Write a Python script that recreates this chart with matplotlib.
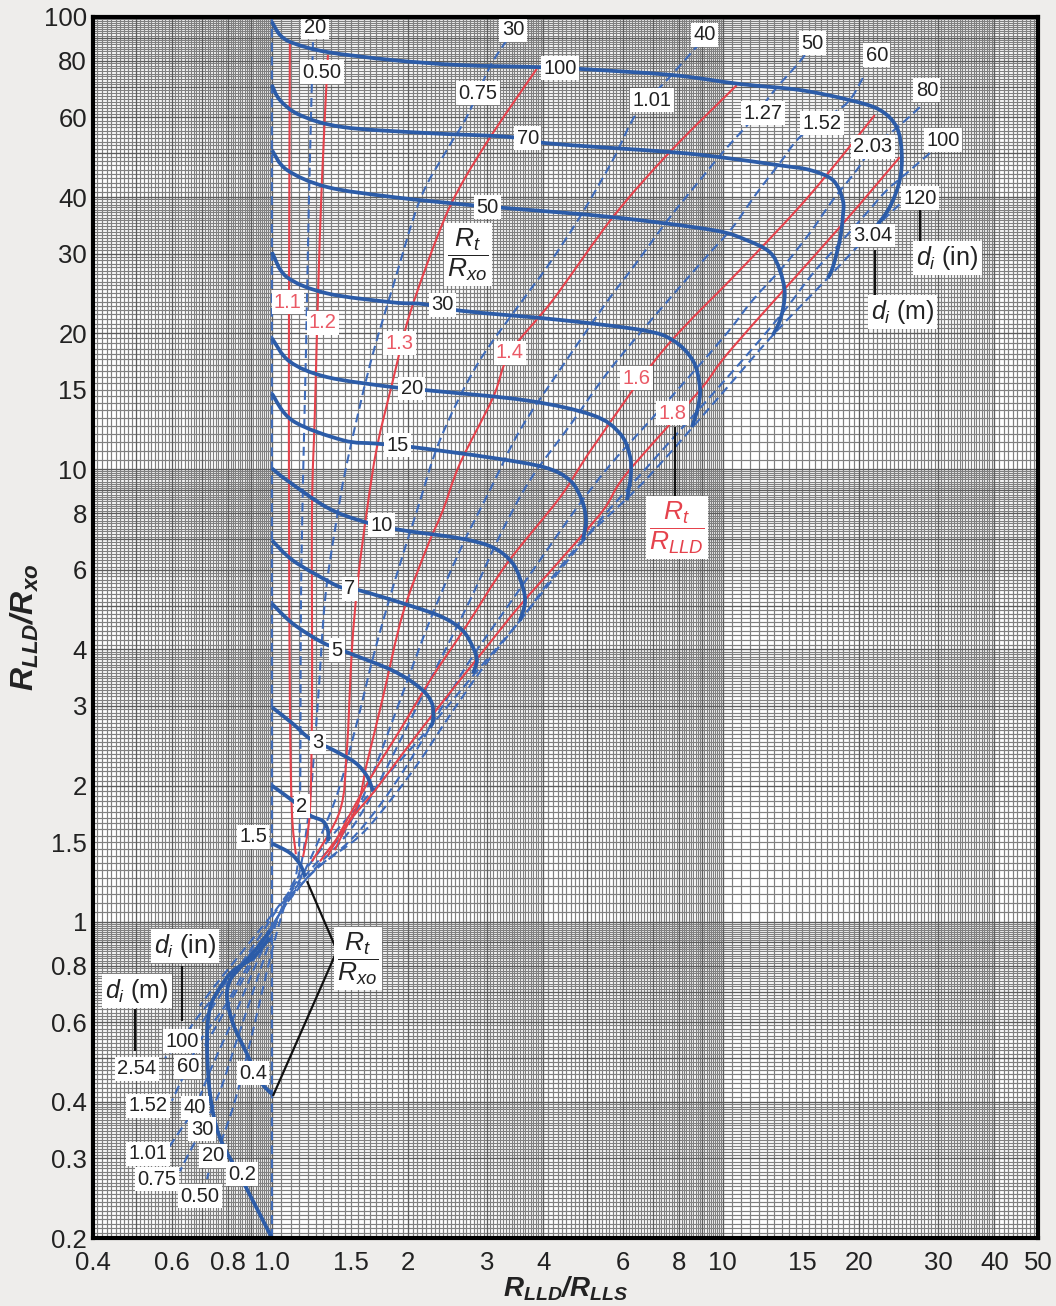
import numpy as np
import matplotlib
matplotlib.use("Agg")
import matplotlib.pyplot as plt
from matplotlib.path import Path
from matplotlib.patches import PathPatch

plt.rcParams['font.family'] = ['Liberation Sans', 'DejaVu Sans']
plt.rcParams['mathtext.fontset'] = 'custom'
plt.rcParams['mathtext.rm'] = 'Liberation Sans'
plt.rcParams['mathtext.it'] = 'Liberation Sans:italic'
plt.rcParams['mathtext.bf'] = 'Liberation Sans:bold'
plt.rcParams['mathtext.bfit'] = 'Liberation Sans:bold:italic'

# ---------------- axis ticks ----------------
x_ticks = [0.4, 0.6, 0.8, 1.0, 1.5, 2, 3, 4, 6, 8, 10, 15, 20, 30, 40, 50]
x_tick_labels = ['0.4', '0.6', '0.8', '1.0', '1.5', '2', '3', '4', '6', '8',
                 '10', '15', '20', '30', '40', '50']
y_ticks = [0.2, 0.3, 0.4, 0.6, 0.8, 1, 1.5, 2, 3, 4, 6, 8, 10, 15, 20, 30, 40, 60, 80, 100]
y_tick_labels = ['0.2', '0.3', '0.4', '0.6', '0.8', '1', '1.5', '2', '3', '4', '6', '8',
                 '10', '15', '20', '30', '40', '60', '80', '100']

# ---------------- Rt/Rxo curves (solid blue) ----------------
rxo_100_x = [1.0, 1.042, 1.113, 1.324, 1.854, 2.612, 3.870, 4.894, 7.745, 10.91, 14.82, 19.13, 22.29, 24.29, 24.93, 24.68, 23.45, 21.73]
rxo_100_y = [97.5, 91.3, 87.6, 83.7, 80.3, 78.3, 77.5, 76.7, 74.4, 71.1, 68.96, 65.5, 62.3, 57.1, 50.0, 43.6, 38.0, 34.1]
rxo_70_x = [1.0, 1.042, 1.154, 1.437, 2.207, 3.372, 4.073, 7.629, 9.85, 13.37, 15.59, 17.54, 18.45, 18.45, 18.17, 17.54, 17.10]
rxo_70_y = [70.7, 65.5, 60.7, 57.1, 55.4, 54.3, 52.6, 50.3, 49.0, 47.0, 45.9, 43.6, 39.4, 36.1, 32.1, 28.0, 26.5]
rxo_50_x = [1.0, 1.080, 1.324, 1.854, 2.748, 3.319, 5.702, 9.505, 11.30, 12.71, 13.37, 13.72, 13.44, 12.91]
rxo_50_y = [50.8, 45.9, 42.1, 40.0, 38.4, 37.8, 36.1, 33.8, 32.1, 30.2, 27.6, 24.5, 21.6, 19.8]
rxo_30_x = [1.0, 1.080, 1.324, 1.854, 2.161, 2.651, 4.352, 6.646, 7.745, 8.583, 8.895, 8.805, 8.54]
rxo_30_y = [30.2, 26.6, 24.5, 23.4, 23.2, 22.4, 21.4, 20.3, 19.3, 17.4, 15.2, 13.7, 12.4]
rxo_20_x = [1.0, 1.096, 1.324, 1.854, 2.207, 3.677, 5.152, 5.911, 6.218, 6.25, 6.124]
rxo_20_y = [19.5, 17.3, 16.0, 15.2, 14.96, 14.2, 13.17, 12.01, 10.74, 9.70, 8.54]
rxo_15_x = [1.0, 1.113, 1.437, 1.710, 2.054, 3.091, 4.03, 4.578, 4.87, 4.97, 4.894]
rxo_15_y = [14.7, 12.8, 11.6, 11.4, 11.2, 10.6, 10.1, 9.46, 8.54, 7.71, 6.97]
rxo_10_x = [1.0, 1.080, 1.324, 1.567, 1.893, 2.612, 3.091, 3.423, 3.602, 3.639, 3.548]
rxo_10_y = [10.05, 9.46, 8.24, 7.71, 7.37, 7.04, 6.72, 6.19, 5.48, 5.05, 4.63]
rxo_7_x = [1.0, 1.113, 1.324, 1.429, 1.567, 2.023, 2.393, 2.651, 2.792, 2.848, 2.792]
rxo_7_y = [6.97, 6.29, 5.68, 5.48, 5.40, 5.00, 4.71, 4.40, 4.04, 3.78, 3.54]
rxo_5_x = [1.0, 1.113, 1.297, 1.489, 1.854, 2.129, 2.264, 2.275, 2.240]
rxo_5_y = [5.05, 4.56, 4.14, 3.92, 3.59, 3.29, 3.04, 2.78, 2.69]
rxo_3_x = [1.0, 1.113, 1.214, 1.365, 1.528, 1.624, 1.675]
rxo_3_y = [2.98, 2.74, 2.54, 2.40, 2.25, 2.10, 1.95]
rxo_2_x = [1.0, 1.113, 1.214, 1.297, 1.331, 1.331]
rxo_2_y = [2.00, 1.85, 1.72, 1.67, 1.59, 1.51]
rxo_1p5_x = [1.0, 1.096, 1.154, 1.184]
rxo_1p5_y = [1.49, 1.42, 1.34, 1.26]
rxo_0p4_x = [1.0, 0.941, 0.880, 0.820, 0.795, 0.807, 0.849, 0.917, 0.990]
rxo_0p4_y = [0.416, 0.445, 0.511, 0.595, 0.679, 0.741, 0.791, 0.863, 0.955]
rxo_0p2_x = [1.0, 0.862, 0.767, 0.729, 0.718, 0.729, 0.767, 0.820, 0.908, 0.990]
rxo_0p2_y = [0.200, 0.267, 0.333, 0.416, 0.545, 0.645, 0.715, 0.779, 0.833, 0.922]

# ---------------- invasion diameter lines (dashed blue) ----------------
di0_x = [1.0, 1.0]
di0_y = [0.2, 100.0]
di20_x = [1.233, 1.208, 1.190, 1.172, 1.160, 1.154, 1.136, 1.096, 1.058, 1.0, 0.941, 0.885, 0.828, 0.775, 0.740, 0.718]
di20_y = [88.0, 39.4, 18.3, 9.46, 5.13, 1.76, 1.30, 1.18, 1.057, 0.863, 0.669, 0.518, 0.402, 0.331, 0.304, 0.270]
di30_x = [3.319, 3.042, 2.704, 2.443, 2.129, 1.854, 1.649, 1.466, 1.379, 1.311, 1.265, 1.214, 1.154, 1.096, 1.042, 0.965, 0.894, 0.828, 0.767, 0.700, 0.658, 0.625]
di30_y = [88.9, 77.5, 60.1, 50.8, 39.4, 25.3, 17.0, 10.3, 7.33, 5.13, 3.08, 1.85, 1.30, 1.171, 1.047, 0.841, 0.669, 0.532, 0.423, 0.348, 0.311, 0.281]
di40_x = [8.895, 7.629, 6.442, 5.702, 4.816, 4.073, 3.602, 2.848, 2.358, 2.098, 1.874, 1.692, 1.528, 1.379, 1.184, 1.107, 1.042, 0.950, 0.871, 0.799, 0.729, 0.675, 0.625, 0.588]
di40_y = [87.6, 73.7, 61.3, 48.3, 36.1, 28.0, 23.7, 17.0, 11.6, 8.11, 5.68, 3.98, 2.65, 1.85, 1.30, 1.171, 1.047, 0.863, 0.704, 0.574, 0.468, 0.388, 0.345, 0.315]
di50_x = [15.2, 14.59, 13.03, 11.59, 10.10, 8.895, 7.551, 6.379, 5.470, 4.352, 3.548, 3.042, 2.612, 2.240, 1.922, 1.649, 1.452, 1.214, 1.096, 0.990, 0.871, 0.775, 0.710]
di50_y = [82.4, 78.3, 68.96, 59.2, 50.8, 43.6, 35.6, 28.3, 23.1, 16.6, 12.2, 8.99, 6.62, 4.63, 3.08, 2.05, 1.59, 1.30, 1.14, 0.955, 0.759, 0.619, 0.532]
di60_x = [20.44, 18.84, 16.16, 14.59, 13.37, 11.89, 10.52, 9.358, 7.246, 5.611, 4.578, 3.733, 3.203, 2.748, 2.358, 2.023, 1.735, 1.489, 1.245, 1.142, 1.058, 0.965, 0.871, 0.787, 0.692, 0.651, 0.600]
di60_y = [73.3, 64.5, 58.3, 53.4, 47.5, 40.8, 34.3, 30.1, 22.5, 16.6, 12.5, 9.46, 7.14, 5.13, 3.78, 2.78, 2.05, 1.59, 1.31, 1.18, 1.069, 0.908, 0.779, 0.652, 0.545, 0.478, 0.402]
di80_x = [27.35, 24.29, 21.51, 19.82, 17.54, 15.59, 13.58, 11.66, 10.21, 8.453, 6.887, 5.611, 4.695, 3.927, 3.286, 2.748, 2.358, 2.023, 1.735, 1.489, 1.265, 1.154, 1.042, 0.941, 0.849, 0.767, 0.692]
di80_y = [63.2, 56.8, 51.6, 45.9, 39.4, 33.3, 28.0, 23.7, 20.0, 16.1, 12.8, 10.2, 8.11, 6.29, 4.88, 3.78, 2.93, 2.27, 1.81, 1.51, 1.32, 1.201, 1.085, 0.931, 0.799, 0.686, 0.589]
di100_x = [28.77, 25.59, 23.10, 20.85, 18.17, 15.83, 13.87, 12.07, 9.85, 8.035, 6.546, 5.337, 4.352, 3.548, 2.965, 2.481, 2.129, 1.827, 1.567, 1.291, 1.154, 1.069, 0.965, 0.849, 0.747, 0.675, 0.631, 0.579]
di100_y = [50.0, 45.2, 41.4, 36.9, 31.6, 27.1, 22.8, 19.3, 15.3, 12.2, 9.70, 7.71, 5.98, 4.63, 3.69, 2.86, 2.27, 1.85, 1.55, 1.34, 1.20, 1.085, 0.931, 0.799, 0.686, 0.604, 0.545, 0.500]
di120_x = [25.98, 24.29, 21.73, 17.10, 12.91, 10.10, 8.453, 6.887, 6.067, 4.894, 4.134, 3.548, 2.792, 2.240, 1.922, 1.675, 1.489, 1.331, 1.184, 1.096, 1.016, 0.917, 0.828, 0.747, 0.692]
di120_y = [40.4, 38.0, 34.1, 26.5, 19.8, 14.96, 12.2, 9.70, 8.54, 6.97, 5.68, 4.63, 3.50, 2.69, 2.27, 1.95, 1.72, 1.51, 1.30, 1.171, 1.057, 0.931, 0.820, 0.722, 0.652]

# ---------------- Rt/RLLD lines (solid red) ----------------
rlld_1p1_x = [1.096, 1.091, 1.091, 1.096, 1.107, 1.130]
rlld_1p1_y = [87.6, 23.7, 8.54, 3.08, 1.76, 1.41]
rlld_1p2_x = [1.331, 1.291, 1.265, 1.245, 1.227, 1.227, 1.214, 1.172]
rlld_1p2_y = [82.4, 43.6, 24.0, 13.3, 8.11, 3.08, 1.76, 1.39]
rlld_1p3_x = [3.890, 3.091, 2.612, 2.358, 2.023, 1.854, 1.710, 1.624, 1.551, 1.504, 1.466, 1.415, 1.227]
rlld_1p3_y = [77.5, 55.4, 42.1, 33.8, 22.1, 15.7, 11.2, 8.11, 5.68, 3.98, 2.39, 1.76, 1.36]
rlld_1p4_x = [10.74, 7.629, 5.702, 4.200, 3.372, 3.091, 2.612, 2.393, 2.207, 1.951, 1.762, 1.624, 1.528, 1.278]
rlld_1p4_y = [70.7, 50.3, 36.1, 23.7, 18.1, 14.4, 10.3, 8.11, 6.72, 4.80, 3.13, 2.24, 1.76, 1.36]
rlld_1p6_x = [21.73, 15.59, 11.19, 7.362, 5.152, 4.352, 3.319, 2.704, 2.240, 1.922, 1.692, 1.528, 1.331]
rlld_1p6_y = [60.7, 40.4, 28.3, 18.3, 11.2, 8.67, 6.19, 4.52, 3.41, 2.65, 2.16, 1.81, 1.40]
rlld_1p8_x = [24.68, 18.17, 10.52, 8.895, 6.124, 5.420, 4.352, 3.548, 2.891, 2.358, 1.972, 1.692, 1.489, 1.379]
rlld_1p8_y = [49.0, 34.3, 18.6, 14.96, 9.80, 8.11, 6.29, 5.00, 3.88, 3.01, 2.39, 1.95, 1.67, 1.44]

# ---------------- curve labels ----------------
rxo_label_text = ['100', '70', '50', '30', '20', '15', '10', '7', '5', '3', '2', '1.5', '0.4', '0.2']
rxo_label_x = [4.352, 3.695, 3.012, 2.393, 2.044, 1.903, 1.753, 1.489, 1.394, 1.265, 1.166, 0.908, 0.908, 0.858]
rxo_label_y = [77.1, 54.0, 38.0, 23.1, 15.1, 11.3, 7.52, 5.45, 3.98, 2.49, 1.80, 1.54, 0.463, 0.277]

rlld_label_text = ['1.1', '1.2', '1.3', '1.4', '1.6', '1.8']
rlld_label_x = [1.085, 1.297, 1.922, 3.372, 6.442, 7.745]
rlld_label_y = [23.4, 21.1, 19.0, 18.1, 15.9, 13.3]

di_label_text = ['20', '0.50', '30', '0.75', '40', '1.01', '50', '1.27', '60', '1.52',
                 '80', '2.03', '100', '120', '3.04',
                 '100', '2.54', '60', '1.52', '40', '30', '1.01', '20', '0.75', '0.50']
di_label_x = [1.246, 1.291, 3.423, 2.863, 9.12, 6.96, 15.83, 12.27, 21.96, 16.58,
              28.34, 21.51, 30.74, 27.35, 21.51,
              0.631, 0.502, 0.651, 0.531, 0.675, 0.700, 0.531, 0.740, 0.556, 0.692]
di_label_y = [95.0, 75.5, 93.6, 67.9, 91.3, 65.5, 87.6, 61.3, 82.4, 58.3,
              68.96, 51.6, 53.4, 39.8, 32.9,
              0.545, 0.473, 0.478, 0.392, 0.388, 0.348, 0.307, 0.304, 0.270, 0.2476]

# leader lines for the explanatory labels
lead_rlld_x = [7.83, 7.83]
lead_rlld_y = [12.4, 8.24]
lead_rxo_x = [1.196, 1.394, 1.005]
lead_rxo_y = [1.23, 0.863, 0.412]
lead_din_r_x = [27.35, 27.35]
lead_din_r_y = [37.4, 31.3]
lead_dm_r_x = [21.73, 21.73]
lead_dm_r_y = [30.5, 24.3]
lead_din_l_x = [0.631, 0.631]
lead_din_l_y = [0.799, 0.604]
lead_dm_l_x = [0.497, 0.497]
lead_dm_l_y = [0.642, 0.518]

BLUE = '#2c5ca8'
DBLUE = '#3f6cbb'
RED = '#e5424c'
RED_TXT = '#ea5a66'
GRID = '#808080'
GRID_DARK = '#5c5c5c'
TXT = '#222222'


def smooth_path(xs, ys):
    """Catmull-Rom spline through the points, built in log space."""
    p = np.column_stack([np.log10(xs), np.log10(ys)])
    n = len(p)
    verts = [p[0]]
    codes = [Path.MOVETO]
    for i in range(n - 1):
        p0 = p[i - 1] if i > 0 else p[i]
        p1, p2 = p[i], p[i + 1]
        p3 = p[i + 2] if i + 2 < n else p[i + 1]
        verts += [p1 + (p2 - p0) / 6.0, p2 - (p3 - p1) / 6.0, p2]
        codes += [Path.CURVE4] * 3
    return Path(10 ** np.array(verts), codes)


def draw_curve(ax, xs, ys, color, lw, ls='-', z=3):
    patch = PathPatch(smooth_path(xs, ys), fill=False, edgecolor=color,
                      linewidth=lw, linestyle=ls, zorder=z, capstyle='butt',
                      joinstyle='round')
    ax.add_patch(patch)


def grid_values(lo, hi):
    vals, major = [], []
    for dec in [0.1, 1.0, 10.0]:
        for a, b, s in [(1, 2, 0.05), (2, 4, 0.05), (4, 10, 0.1)]:
            for m in np.arange(a, b - 1e-9, s):
                v = round(m * dec, 6)
                if lo - 1e-9 <= v <= hi + 1e-9:
                    if abs(m - round(m)) < 1e-6:
                        major.append(v)
                    else:
                        vals.append(v)
    return vals, major


fig = plt.figure(figsize=(10.56, 13.06), dpi=100)
fig.patch.set_facecolor('#eeedeb')
ax = fig.add_axes([92.5 / 1056, 1 - 1238 / 1306, (1038 - 92.5) / 1056, (1238 - 17) / 1306])
ax.set_xscale('log')
ax.set_yscale('log')
ax.set_xlim(0.4, 50)
ax.set_ylim(0.2, 100)
ax.set_facecolor('white')

# graph-paper grid
gx, gx_major = grid_values(0.4, 50)
gy, gy_major = grid_values(0.2, 100)
ax.vlines(gx, 0.2, 100, colors=GRID, linewidth=0.85, zorder=0)
ax.hlines(gy, 0.4, 50, colors=GRID, linewidth=0.85, zorder=0)
ax.vlines(gx_major, 0.2, 100, colors=GRID_DARK, linewidth=0.95, zorder=0)
ax.hlines(gy_major, 0.4, 50, colors=GRID_DARK, linewidth=0.95, zorder=0)

dash = (0, (4.3, 2.4))

# dashed diameter lines
for xs, ys in [(di0_x, di0_y), (di20_x, di20_y), (di30_x, di30_y), (di40_x, di40_y),
               (di50_x, di50_y), (di60_x, di60_y), (di80_x, di80_y),
               (di100_x, di100_y), (di120_x, di120_y)]:
    draw_curve(ax, xs, ys, DBLUE, 1.5, ls=dash, z=2)

# red Rt/RLLD lines
for xs, ys in [(rlld_1p1_x, rlld_1p1_y), (rlld_1p2_x, rlld_1p2_y), (rlld_1p3_x, rlld_1p3_y),
               (rlld_1p4_x, rlld_1p4_y), (rlld_1p6_x, rlld_1p6_y), (rlld_1p8_x, rlld_1p8_y)]:
    draw_curve(ax, xs, ys, RED, 1.5, z=3)

# solid Rt/Rxo curves
for xs, ys in [(rxo_100_x, rxo_100_y), (rxo_70_x, rxo_70_y), (rxo_50_x, rxo_50_y),
               (rxo_30_x, rxo_30_y), (rxo_20_x, rxo_20_y), (rxo_15_x, rxo_15_y),
               (rxo_10_x, rxo_10_y), (rxo_7_x, rxo_7_y), (rxo_5_x, rxo_5_y),
               (rxo_3_x, rxo_3_y), (rxo_2_x, rxo_2_y), (rxo_1p5_x, rxo_1p5_y),
               (rxo_0p4_x, rxo_0p4_y), (rxo_0p2_x, rxo_0p2_y)]:
    draw_curve(ax, xs, ys, BLUE, 2.7, z=4)

box = dict(boxstyle='square,pad=0.12', facecolor='white', edgecolor='none')
LBL = 14.5

for t, x, y in zip(rxo_label_text, rxo_label_x, rxo_label_y):
    ax.text(x, y, t, fontsize=LBL, color=TXT, ha='center', va='center', bbox=box, zorder=6)
for t, x, y in zip(rlld_label_text, rlld_label_x, rlld_label_y):
    ax.text(x, y, t, fontsize=LBL, color=RED_TXT, ha='center', va='center', bbox=box, zorder=6)
for t, x, y in zip(di_label_text, di_label_x, di_label_y):
    ax.text(x, y, t, fontsize=LBL, color=TXT, ha='center', va='center', bbox=box, zorder=6)

# leader lines
for xs, ys in [(lead_rlld_x, lead_rlld_y), (lead_rxo_x, lead_rxo_y), (lead_din_r_x, lead_din_r_y),
               (lead_dm_r_x, lead_dm_r_y), (lead_din_l_x, lead_din_l_y), (lead_dm_l_x, lead_dm_l_y)]:
    ax.plot(xs, ys, color='#111111', lw=1.6, zorder=5, solid_capstyle='butt')

# explanatory labels
fbox = dict(boxstyle='square,pad=0.12', facecolor='white', edgecolor='none')
ax.text(2.72, 29.8, r'$\dfrac{R_t}{R_{xo}}$', fontsize=19, color=TXT,
        ha='center', va='center', bbox=fbox, zorder=6)
ax.text(1.551, 0.828, r'$\dfrac{R_t}{R_{xo}}$', fontsize=19, color=TXT,
        ha='center', va='center', bbox=fbox, zorder=6)
ax.text(7.9, 7.44, r'$\dfrac{R_t}{R_{LLD}}$', fontsize=19, color=RED,
        ha='center', va='center', bbox=fbox, zorder=6)
ax.text(31.5, 29.3, r'$d_i$ (in)', fontsize=18, color=TXT, ha='center', va='center',
        bbox=fbox, zorder=6)
ax.text(25.06, 22.3, r'$d_i$ (m)', fontsize=18, color=TXT, ha='center', va='center',
        bbox=fbox, zorder=6)
ax.text(0.641, 0.885, r'$d_i$ (in)', fontsize=18, color=TXT, ha='center', va='center',
        bbox=fbox, zorder=6)
ax.text(0.502, 0.704, r'$d_i$ (m)', fontsize=18, color=TXT, ha='center', va='center',
        bbox=fbox, zorder=6)

# axes styling
ax.xaxis.set_major_locator(matplotlib.ticker.FixedLocator(x_ticks))
ax.xaxis.set_minor_locator(matplotlib.ticker.NullLocator())
ax.yaxis.set_major_locator(matplotlib.ticker.FixedLocator(y_ticks))
ax.yaxis.set_minor_locator(matplotlib.ticker.NullLocator())
ax.set_xticklabels(x_tick_labels)
ax.set_yticklabels(y_tick_labels)
ax.tick_params(axis='both', length=0, labelsize=18.5, colors=TXT)
ax.tick_params(axis='x', pad=9)
ax.tick_params(axis='y', pad=4)
for s in ax.spines.values():
    s.set_linewidth(3)
    s.set_color('black')
    s.set_zorder(10)

ax.set_xlabel(r'$\mathbfit{R_{LLD}/R_{LLS}}$', fontsize=20, color=TXT, labelpad=0)
ax.set_ylabel(r'$\mathbfit{R_{LLD}/R_{xo}}$', fontsize=23, color=TXT, labelpad=2)

fig.savefig('out.png', dpi=100, facecolor=fig.get_facecolor())
